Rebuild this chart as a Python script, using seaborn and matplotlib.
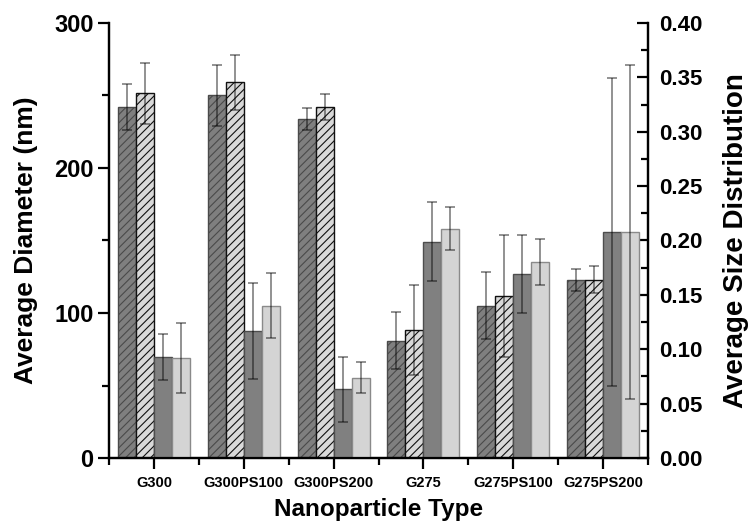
import numpy as np
import pandas as pd
import matplotlib
matplotlib.use("Agg")
import matplotlib.pyplot as plt
import seaborn as sns

# Nanoparticle formulations
groups = ["G300", "G300PS100", "G300PS200", "G275", "G275PS100", "G275PS200"]

# Average hydrodynamic diameter (nm) with standard deviation, two measurement sets
diam_1 = [242, 250, 234, 81, 105, 123]
diam_1_err = [16, 21, 7.5, 19.5, 23, 7.5]
diam_2 = [251.5, 259, 242, 88, 112, 123]
diam_2_err = [21, 19, 9, 31, 42, 9.5]

# Average size distribution (polydispersity) with standard deviation
pdi_1 = [0.093, 0.117, 0.063, 0.199, 0.169, 0.208]
pdi_1_err = [0.021, 0.044, 0.030, 0.036, 0.036, 0.1415]
pdi_2 = [0.092, 0.140, 0.074, 0.211, 0.180, 0.208]
pdi_2_err = [0.032, 0.030, 0.014, 0.020, 0.021, 0.1535]

series = ["Diameter 1", "Diameter 2", "PDI 1", "PDI 2"]
face = {"Diameter 1": "#7f7f7f", "Diameter 2": "#d9d9d9",
        "PDI 1": "#808080", "PDI 2": "#d4d4d4"}
edge = {"Diameter 1": "#4a4a4a", "Diameter 2": "#111111",
        "PDI 1": "#4d4d4d", "PDI 2": "#8a8a8a"}
hatch = {"Diameter 1": "////", "Diameter 2": "////", "PDI 1": None, "PDI 2": None}

diam_df = pd.DataFrame({
    "group": groups * 2,
    "series": ["Diameter 1"] * 6 + ["Diameter 2"] * 6,
    "value": diam_1 + diam_2,
    "err": diam_1_err + diam_2_err,
})
pdi_df = pd.DataFrame({
    "group": groups * 2,
    "series": ["PDI 1"] * 6 + ["PDI 2"] * 6,
    "value": pdi_1 + pdi_2,
    "err": pdi_1_err + pdi_2_err,
})

sns.set_theme(style="ticks")
plt.rcParams["font.family"] = ["Liberation Sans", "DejaVu Sans"]
plt.rcParams["font.weight"] = "bold"
plt.rcParams["hatch.linewidth"] = 0.8
for key in ("text.color", "axes.labelcolor", "xtick.color", "ytick.color",
            "axes.edgecolor"):
    plt.rcParams[key] = "black"

fig = plt.figure(figsize=(7.51, 5.22), dpi=100)
ax = fig.add_axes([109 / 751, 1 - 458 / 522, (648 - 109) / 751, (458 - 23) / 522])
ax2 = ax.twinx()


def draw(axis, df):
    sns.barplot(data=df, x="group", y="value", hue="series", order=groups,
                hue_order=series, palette=face, errorbar=None, width=0.8,
                legend=False, ax=axis)
    present = [s for s in series if s in set(df["series"])]
    bars = [p for p in axis.patches if p.get_height() > 0]
    k = 0
    for s in present:
        sub = df[df["series"] == s].set_index("group").loc[groups]
        xs = []
        for g in groups:
            p = bars[k]
            k += 1
            p.set_edgecolor(edge[s])
            p.set_linewidth(1.0)
            if hatch[s]:
                p.set_hatch(hatch[s])
            xs.append(p.get_x() + p.get_width() / 2)
        axis.errorbar(xs, sub["value"].values, yerr=sub["err"].values, fmt="none",
                      ecolor=(0, 0, 0, 0.5), elinewidth=1.2, capsize=3.5,
                      capthick=1.2, zorder=5)


draw(ax, diam_df)
draw(ax2, pdi_df)

ax.set_xlim(-0.5, 5.5)
ax.set_ylim(0, 300)
ax2.set_ylim(0, 0.40)

ax.set_yticks([0, 100, 200, 300])
ax.set_yticks([50, 150, 250], minor=True)
ax2.set_yticks(np.arange(0, 0.401, 0.05))
ax2.set_yticks(np.arange(0.025, 0.4, 0.05), minor=True)
ax2.set_yticklabels([f"{v:.2f}" for v in np.arange(0, 0.401, 0.05)])

ax.set_xticks(range(len(groups)))
ax.set_xticklabels(groups)
ax.set_xticks(np.arange(-0.5, 6, 1), minor=True)

for a in (ax, ax2):
    a.spines["top"].set_visible(False)
    for sp in a.spines.values():
        sp.set_linewidth(1.6)
        sp.set_color("black")

ax.tick_params(axis="y", which="major", direction="out", length=8, width=1.6,
               labelsize=17, pad=3, colors="black")
ax.tick_params(axis="y", which="minor", direction="out", length=5, width=1.6,
               colors="black")
ax.tick_params(axis="x", which="major", direction="out", length=8, width=1.6,
               labelsize=10.5, pad=5, colors="black")
ax.tick_params(axis="x", which="minor", direction="out", length=5, width=1.6,
               colors="black")
ax2.tick_params(axis="y", which="major", direction="in", length=8, width=1.6,
                labelsize=16, pad=8, right=True, left=False, colors="black")
ax2.tick_params(axis="y", which="minor", direction="in", length=5, width=1.6,
                right=True, left=False, colors="black")

for lab in ax.get_xticklabels() + ax.get_yticklabels() + ax2.get_yticklabels():
    lab.set_fontweight("bold")

ax.set_xlabel("Nanoparticle Type", fontsize=17.5, fontweight="bold",
              labelpad=6, color="black")
ax.set_ylabel("Average Diameter (nm)", fontsize=19, fontweight="bold",
              labelpad=12, color="black")
ax2.set_ylabel("Average Size Distribution", fontsize=20, fontweight="bold",
               labelpad=15, color="black")
ax2.set_xlabel("")

fig.savefig("out.png", dpi=100)
